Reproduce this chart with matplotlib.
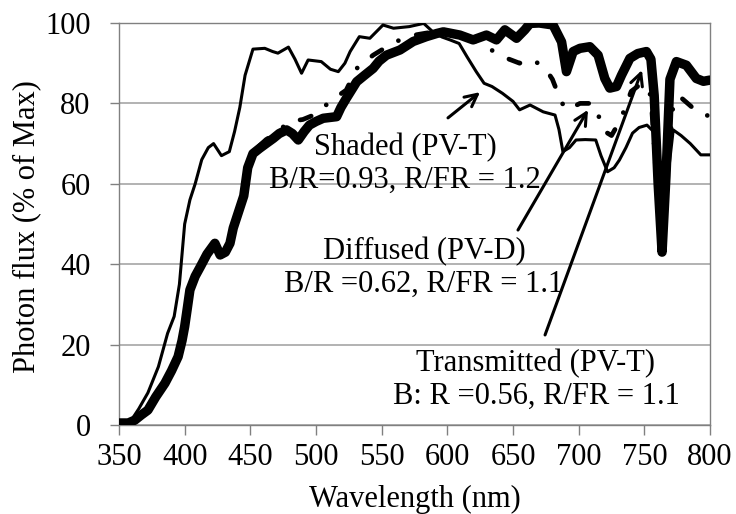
import matplotlib
matplotlib.use("Agg")
import matplotlib.pyplot as plt

# ---- data ----
wl_shaded = [350, 355, 360, 365, 372, 380, 387, 392, 396, 400, 404, 408, 413, 418, 422, 428,
             434, 438, 442, 446, 452, 461, 467, 471, 479, 484, 489, 494, 504, 511, 517, 522,
             526, 533, 541, 551, 559, 571, 582, 589, 596, 602, 609, 615, 622, 628, 634, 642,
             650, 655, 663, 673, 682, 685, 688, 693, 698, 705, 713, 717, 722, 727, 731, 736,
             741, 746, 752, 757, 760, 764, 768, 772, 778, 785, 793, 800]
val_shaded = [0.8, 0.8, 1.5, 4, 8, 14.5, 22.8, 27, 35, 50, 56, 60, 66, 69, 70, 67,
              68, 73, 79, 87, 93.5, 93.7, 92.9, 92.5, 94, 91, 87.5, 90.8, 90.4, 88.5, 87.9, 90,
              92.9, 96.6, 96.2, 99.5, 98.7, 99.1, 99.9, 97.8, 96.5, 95.8, 94.9, 91.6, 87.9, 85, 84.2, 82.5,
              80.5, 78.4, 79.6, 77.9, 77.1, 73.5, 68, 69, 70.9, 71, 70.9, 67, 63, 64, 65.9, 69,
              72.6, 74, 74.6, 73, 62, 47, 62, 73.4, 72, 70, 67.2, 67.2]

wl_trans = [350, 357, 362, 367, 372, 378, 385, 390, 395, 398, 400, 402, 404, 408, 412, 417,
            423, 427, 431, 434.5, 437, 440, 445, 448, 452, 457, 462, 467.5, 472, 477.6, 482, 486.5,
            491, 495, 500, 505.5, 515.7, 519, 523, 531, 537, 543.5, 548, 553.7, 564, 574,
            584, 592, 597, 609.5, 619.6, 629.8, 637.4, 643.8, 652.7, 659, 663, 670, 680.5, 687,
            690.7, 695.8, 701, 708.5, 714.8, 719.9, 723.7, 728.8, 732.6, 739, 745, 751.6, 755, 757.5,
            760.5, 763.5, 766.5, 769.5, 774.4, 782, 789.6, 795, 800]
val_trans = [0.5, 0.5, 1.2, 2.5, 3.7, 7, 10.4, 13.5, 17, 21, 24.5, 29, 33.6, 37, 39.4, 42.5,
             45.2, 42.3, 43, 45.2, 49, 52, 57, 64, 67.5, 68.8, 70, 71.3, 72.5, 73.4, 72.5, 70.9,
             73, 74.6, 75.5, 76.3, 76.7, 79, 81.2, 85.4, 87, 88.7, 90.5, 92, 93.3, 95.4,
             96.6, 97.4, 97.8, 97, 95.8, 97, 95.8, 98.3, 96.2, 98.3, 99.9, 100, 99.5, 95.3,
             87.9, 92.9, 93.7, 94.1, 92, 86.2, 83.8, 84.2, 87, 91.2, 92.4, 92.9, 91, 82,
             60, 43, 62, 86, 90.4, 89.5, 86.2, 85.5, 85.8]

wl_diff = [350, 357, 362, 367, 372, 378, 385, 390, 395, 398, 400, 402, 404, 408, 412, 417,
           423, 427, 431, 434.5, 437, 440, 445, 448, 452, 457, 462, 467, 480, 490, 499, 512,
           523, 531, 543.5, 559, 571.5, 584, 595, 605, 615, 625, 635, 640, 647, 655,
           664, 674, 680, 686, 690, 695, 701, 711, 715, 720, 725, 732, 740, 748,
           755, 759, 763.5, 768, 772, 777, 783, 790, 795, 800]
val_diff = [0.5, 0.5, 1.2, 2.5, 3.7, 7, 10.4, 13.5, 17, 21, 24.5, 29, 33.6, 37, 39.4, 42.5,
            45.2, 42.3, 43, 45.2, 49, 52, 58, 65, 68, 69.5, 71, 72, 75.5, 76, 77.2, 80.8,
            83.3, 88.7, 92, 95.1, 96.8, 97.5, 98, 97.5, 96.5, 95, 93, 92, 91, 90,
            91, 89, 86, 81, 78.5, 79, 80, 80, 77, 73, 72, 76, 83, 85,
            82, 62, 43.5, 65, 80, 81.7, 80, 78, 77, 77]

x_ticks = [350, 400, 450, 500, 550, 600, 650, 700, 750, 800]
y_ticks = [0, 20, 40, 60, 80, 100]

# ---- figure ----
W, H = 736, 514
fig = plt.figure(figsize=(W / 100, H / 100), dpi=100)
L, R, T, B = 119, 710, 23, 425
ax = fig.add_axes([L / W, 1 - B / H, (R - L) / W, (B - T) / H])

plt.rcParams['font.family'] = ['Liberation Serif', 'DejaVu Serif']
FS = 22
serif = ['Liberation Serif', 'DejaVu Serif']

ax.plot(wl_trans, val_trans, color='black', lw=6.8, solid_capstyle='round',
        solid_joinstyle='round', zorder=3)
ax.plot(wl_diff, val_diff, color='black', lw=3.4, linestyle=(0, (2.5, 4, 0.01, 4)),
        dash_capstyle='round', zorder=2.5)
ax.plot(wl_shaded, val_shaded, color='black', lw=2.2, solid_joinstyle='round', zorder=4)

ax.set_xlim(350, 800)
ax.set_ylim(0, 100)
ax.set_xticks(x_ticks)
ax.set_yticks(y_ticks)
ax.set_xticklabels([str(v) for v in x_ticks], family=serif, fontsize=FS)
ax.set_yticklabels([str(v) for v in y_ticks], family=serif, fontsize=FS)
ax.tick_params(axis='x', direction='out', length=7, width=1, color='#808080', pad=6)
ax.tick_params(axis='y', direction='out', length=6.5, width=1, color='#808080', pad=14)

ax.yaxis.grid(True, color='#a6a6a6', lw=1.2)
ax.set_axisbelow(True)
for s in ax.spines.values():
    s.set_color('#808080')
    s.set_linewidth(1.0)

fig.text(27 / W, 1 - 227 / H, 'Photon flux (% of Max)', rotation=90, ha='center',
         va='center', fontsize=FS, family=serif)
fig.text(414.5 / W, 1 - 499 / H, 'Wavelength (nm)', ha='center', va='center',
         fontsize=FS, family=serif)

arrow = dict(arrowstyle='->', color='black', lw=2.2, mutation_scale=22, shrinkA=0, shrinkB=0)

ax.text(567.8, 64.9, 'Shaded (PV-T)\nB/R=0.93, R/FR = 1.2', ha='center', va='center',
        fontsize=FS, family=serif, linespacing=1.15, zorder=6)
ax.annotate('', xy=(624.9, 82.8), xytext=(600.5, 76.4), arrowprops=arrow, zorder=6)

ax.text(582.2, 39.1, 'Diffused (PV-D)\nB/R =0.62, R/FR = 1.1', ha='center', va='center',
        fontsize=FS, family=serif, linespacing=1.15, zorder=6)
ax.annotate('', xy=(707.1, 78.4), xytext=(653.8, 48.5), arrowprops=arrow, zorder=6)

ax.text(667.5, 11.2, 'Transmitted (PV-T)\nB: R =0.56, R/FR = 1.1', ha='center', va='center',
        fontsize=FS, family=serif, linespacing=1.15, zorder=6)
ax.annotate('', xy=(748.2, 88.3), xytext=(674.4, 22.4), arrowprops=arrow, zorder=6)

fig.savefig('out.png', dpi=100)
